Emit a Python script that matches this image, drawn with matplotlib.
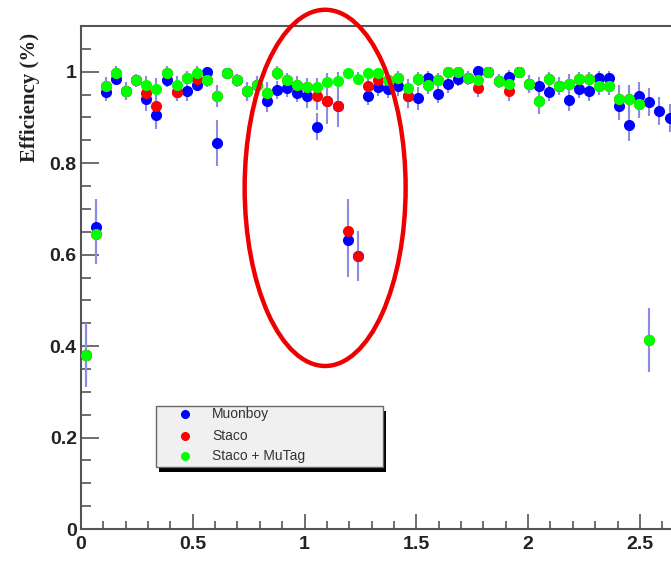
import numpy as np
import matplotlib.pyplot as plt
from matplotlib.patches import Ellipse, Rectangle
from matplotlib.lines import Line2D
from matplotlib.ticker import MultipleLocator, FuncFormatter

# 60 eta bins from 0 to 2.7, the picture shows the first 59
eta_edges = np.linspace(0, 2.7, 61)
eta = 0.5 * (eta_edges[:-1] + eta_edges[1:])[:59]

series_names = ["Muonboy", "Staco", "Staco + MuTag"]
series_colors = ["#0000ff", "#ff0000", "#00ff00"]

muonboy = [0.380, 0.661, 0.955, 0.985, 0.958, 0.981, 0.940, 0.905, 0.982, 0.955,
           0.957, 0.972, 1.000, 0.844, 0.998, 0.981, 0.957, 0.970, 0.936, 0.960,
           0.965, 0.954, 0.946, 0.880, 0.935, 0.924, 0.632, 0.597, 0.948, 0.967,
           0.962, 0.968, 0.946, 0.942, 0.987, 0.952, 0.974, 0.984, 0.986, 1.001,
           0.999, 0.980, 0.989, 0.999, 0.973, 0.968, 0.955, 0.969, 0.939, 0.963,
           0.957, 0.986, 0.986, 0.925, 0.884, 0.947, 0.934, 0.914, 0.899]
staco = [0.380, 0.645, 0.969, 0.998, 0.958, 0.981, 0.953, 0.925, 0.998, 0.955,
         0.986, 0.984, 0.982, 0.947, 0.998, 0.981, 0.957, 0.970, 0.953, 0.998,
         0.983, 0.971, 0.966, 0.947, 0.935, 0.924, 0.652, 0.597, 0.968, 0.982,
         0.981, 0.986, 0.946, 0.984, 0.972, 0.983, 0.999, 0.999, 0.986, 0.964,
         0.999, 0.980, 0.957, 0.999, 0.973, 0.937, 0.984, 0.969, 0.974, 0.985,
         0.985, 0.969, 0.969, 0.940, 0.940, 0.929, 0.414, np.nan, np.nan]
mutag = [0.380, 0.645, 0.969, 0.998, 0.958, 0.981, 0.970, 0.962, 0.998, 0.970,
         0.986, 0.998, 0.982, 0.947, 0.998, 0.981, 0.957, 0.970, 0.953, 0.998,
         0.983, 0.971, 0.966, 0.967, 0.978, 0.980, 0.998, 0.985, 0.998, 0.998,
         0.981, 0.986, 0.965, 0.984, 0.972, 0.983, 0.999, 0.999, 0.986, 0.983,
         0.999, 0.980, 0.973, 0.999, 0.973, 0.937, 0.984, 0.969, 0.974, 0.985,
         0.985, 0.969, 0.969, 0.940, 0.940, 0.929, 0.414, np.nan, np.nan]

# statistical errors (half length of the bars)
muonboy_err = [0.070, 0.060, 0.020, 0.015, 0.020, 0.015, 0.025, 0.030, 0.015, 0.020,
               0.020, 0.015, 0.010, 0.050, 0.010, 0.015, 0.020, 0.020, 0.025, 0.020,
               0.020, 0.020, 0.025, 0.030, 0.025, 0.030, 0.080, 0.055, 0.020, 0.020,
               0.020, 0.020, 0.025, 0.025, 0.015, 0.020, 0.020, 0.015, 0.015, 0.010,
               0.010, 0.015, 0.015, 0.010, 0.020, 0.020, 0.020, 0.020, 0.025, 0.020,
               0.020, 0.015, 0.015, 0.030, 0.035, 0.030, 0.030, 0.030, 0.030]
staco_err = [0.070, 0.065, 0.020, 0.015, 0.020, 0.015, 0.025, 0.030, 0.015, 0.020,
             0.015, 0.015, 0.015, 0.025, 0.010, 0.015, 0.020, 0.020, 0.025, 0.015,
             0.015, 0.020, 0.020, 0.030, 0.050, 0.045, 0.070, 0.055, 0.020, 0.015,
             0.015, 0.015, 0.025, 0.015, 0.020, 0.015, 0.010, 0.010, 0.015, 0.020,
             0.010, 0.015, 0.020, 0.010, 0.020, 0.025, 0.015, 0.020, 0.020, 0.015,
             0.015, 0.020, 0.020, 0.030, 0.030, 0.030, 0.070, np.nan, np.nan]
mutag_err = [0.065, 0.065, 0.020, 0.015, 0.020, 0.015, 0.020, 0.025, 0.015, 0.020,
             0.015, 0.015, 0.015, 0.025, 0.010, 0.015, 0.020, 0.020, 0.025, 0.015,
             0.015, 0.020, 0.020, 0.020, 0.020, 0.020, 0.010, 0.015, 0.010, 0.010,
             0.015, 0.015, 0.020, 0.015, 0.020, 0.015, 0.010, 0.010, 0.015, 0.015,
             0.010, 0.015, 0.020, 0.010, 0.020, 0.030, 0.015, 0.020, 0.020, 0.015,
             0.015, 0.020, 0.020, 0.030, 0.030, 0.030, 0.070, np.nan, np.nan]

fig = plt.figure(figsize=(6.71, 5.74), dpi=100)
ax = fig.add_axes([81 / 671, 45 / 574, 590 / 671, 503 / 574])

values = [muonboy, staco, mutag]
errors = [muonboy_err, staco_err, mutag_err]

# error bars first, markers on top (blue, then red, then green)
for vals, errs in zip(values, errors):
    ax.errorbar(eta, vals, yerr=errs, fmt="none", ecolor="#8c8ce4",
                elinewidth=1.5, capsize=0, zorder=2)
for i, (vals, col) in enumerate(zip(values, series_colors)):
    ax.plot(eta, vals, "o", ms=7, color=col, mec=col, zorder=3 + i)

ax.set_xlim(0, 2.639)
ax.set_ylim(0, 1.1)

ax.xaxis.set_major_locator(MultipleLocator(0.5))
ax.xaxis.set_minor_locator(MultipleLocator(0.1))
ax.yaxis.set_major_locator(MultipleLocator(0.2))
ax.yaxis.set_minor_locator(MultipleLocator(0.05))
fmt = FuncFormatter(lambda v, p: "%g" % round(v, 2))
ax.xaxis.set_major_formatter(fmt)
ax.yaxis.set_major_formatter(fmt)

ax.tick_params(axis="both", which="both", direction="in", color="#555555",
               width=1.2, top=False, right=False)
ax.tick_params(axis="y", which="major", length=13, pad=3)
ax.tick_params(axis="y", which="minor", length=7)
ax.tick_params(axis="x", which="major", length=11, pad=5)
ax.tick_params(axis="x", which="minor", length=6)
for lab in ax.get_xticklabels() + ax.get_yticklabels():
    lab.set_fontfamily("Liberation Sans")
    lab.set_fontweight("bold")
    lab.set_fontsize(14)
    lab.set_color("#222222")

for side in ["left", "bottom", "top"]:
    ax.spines[side].set_color("#555555")
    ax.spines[side].set_linewidth(1.5)
ax.spines["right"].set_visible(False)

fig.text(30 / 671, 1 - 97 / 574, "Efficiency (%)", rotation=90, ha="center",
         va="center", fontfamily="Liberation Serif", fontweight="bold",
         fontsize=15, color="#222222")

# hand-drawn highlight around the crack region
ax.add_patch(Ellipse((1.092, 0.746), 0.72, 0.779, fill=False, ec="#ee0000",
                     lw=3.2, clip_on=False, zorder=10))

# legend box with a shadow, ROOT style
W, H = 671, 574
box = (156, 406, 227, 61)  # left, top, width, height in pixels
fig.patches.append(Rectangle(((box[0] + 3) / W, 1 - (box[1] + box[3] + 5) / H),
                             box[2] / W, box[3] / H, transform=fig.transFigure,
                             fc="black", ec="none", zorder=20))
fig.patches.append(Rectangle((box[0] / W, 1 - (box[1] + box[3]) / H),
                             box[2] / W, box[3] / H, transform=fig.transFigure,
                             fc="#f0f0f0", ec="#666666", lw=1, zorder=21))
row_y = [414, 436, 456]
for name, col, yy in zip(series_names, series_colors, row_y):
    fig.lines.append(Line2D([185 / W], [1 - yy / H], marker="o", ms=5.5,
                            color=col, mec=col, transform=fig.transFigure,
                            zorder=22))
    fig.text(212 / W, 1 - yy / H, name, ha="left", va="center",
             fontfamily="Liberation Sans", fontsize=10, color="#333333",
             zorder=22)

fig.savefig("out.png", dpi=100, facecolor="white")
